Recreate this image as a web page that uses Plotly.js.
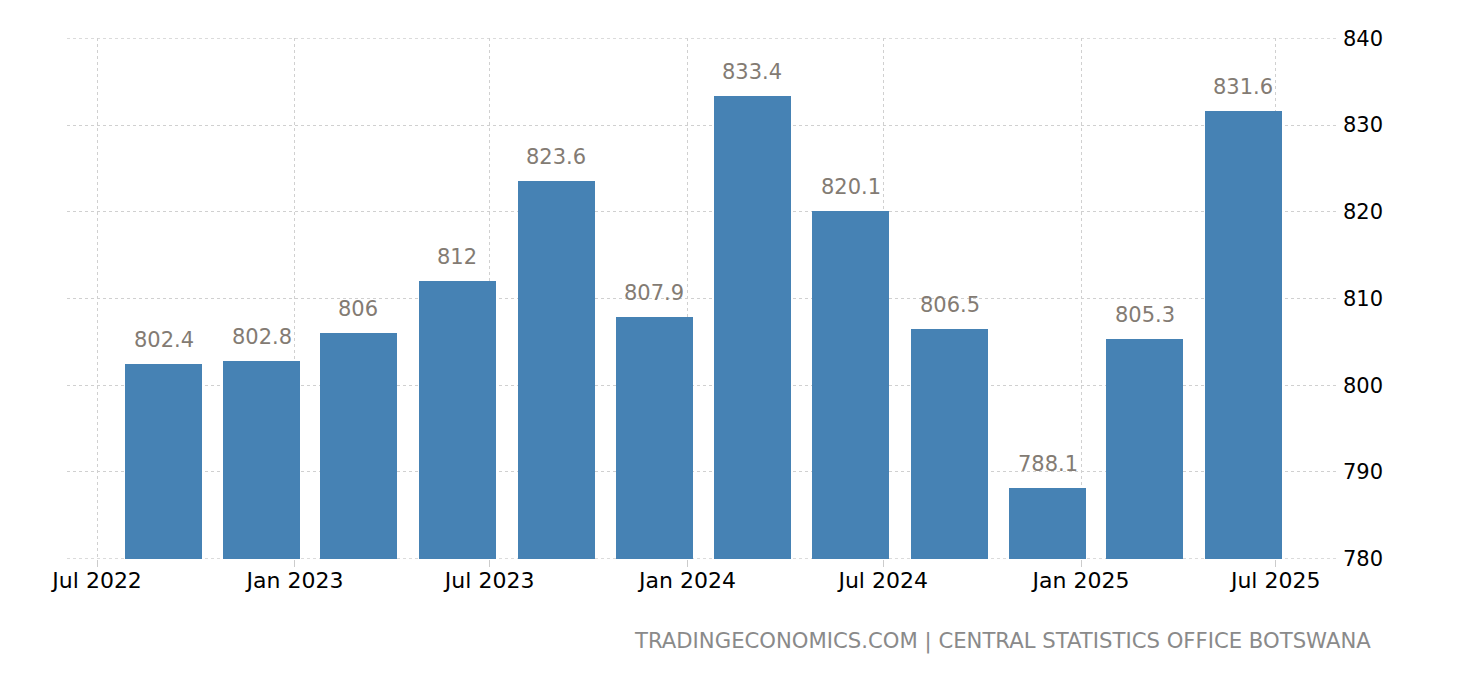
<!DOCTYPE html>
<html>
<head>
<meta charset="utf-8">
<script src="https://cdn.plot.ly/plotly-3.0.1.min.js"></script>
<style>
html,body{margin:0;padding:0;background:#fff;}
#chart{width:1460px;height:680px;}
</style>
</head>
<body>
<div id="chart"></div>
<script>
const dates = ["2022-09-01","2022-12-01","2023-03-01","2023-06-01","2023-09-01","2023-12-01",
               "2024-03-01","2024-06-01","2024-09-01","2024-12-01","2025-03-01","2025-06-01"];
const values = [802.4, 802.8, 806, 812, 823.6, 807.9, 833.4, 820.1, 806.5, 788.1, 805.3, 831.6];
const valueLabels = ["802.4","802.8","806","812","823.6","807.9","833.4","820.1","806.5","788.1","805.3","831.6"];
const yTicks = [780, 790, 800, 810, 820, 830, 840];
const sourceText = "TRADINGECONOMICS.COM | CENTRAL STATISTICS OFFICE BOTSWANA";

const DAY = 86400000;
const barWidth = 71.6 * DAY;
const FONT = "DejaVu Sans, Verdana, sans-serif";
const GRID = "#d0d0d0";

const trace = {
  type: "bar",
  x: dates,
  y: values,
  width: dates.map(() => barWidth),
  marker: {color: "#4682b4"},
  hoverinfo: "x+y"
};

const annotations = dates.map((d, i) => ({
  x: d, y: values[i], xref: "x", yref: "y",
  text: valueLabels[i], showarrow: false,
  yanchor: "bottom", yshift: 10,
  font: {family: FONT, size: 21, color: "#837b73"}
}));
annotations.push({
  xref: "paper", yref: "paper", x: 1.028, y: -0.158,
  xanchor: "right", yanchor: "middle",
  text: sourceText, showarrow: false,
  font: {family: FONT, size: 21.2, color: "#8a8a8a"}
});

// edge gridlines (top/bottom ticks) that Plotly skips at the plot border
const edgeTicks = [yTicks[0], yTicks[yTicks.length - 1]];
const shapes = edgeTicks.map(v => ({
  type: "line", xref: "paper", yref: "y", x0: 0, x1: 1, y0: v, y1: v,
  line: {color: GRID, width: 1, dash: "dot"}, layer: "below"
}));

const layout = {
  width: 1460, height: 680,
  margin: {l: 67, r: 123, t: 38, b: 121, pad: 0},
  paper_bgcolor: "#ffffff", plot_bgcolor: "#ffffff",
  showlegend: false,
  bargap: 0,
  xaxis: {
    type: "date",
    range: ["2022-06-03", "2025-08-27"],
    tick0: "2022-07-01", dtick: "M6",
    tickformat: "%b %Y",
    showgrid: true, gridcolor: GRID, griddash: "dot", gridwidth: 1,
    ticks: "outside", ticklen: 7, tickcolor: "#cccccc", tickwidth: 1,
    ticklabelstandoff: -5,
    showline: false, zeroline: false,
    tickfont: {family: FONT, size: 22, color: "#000000"},
    fixedrange: true
  },
  yaxis: {
    side: "right",
    range: [779.97, 840.03],
    tickvals: yTicks,
    ticktext: yTicks.map(String),
    showgrid: true, gridcolor: GRID, griddash: "dot", gridwidth: 1,
    ticks: "", ticklabelstandoff: 5,
    showline: false, zeroline: false,
    tickfont: {family: FONT, size: 21, color: "#000000"},
    fixedrange: true
  },
  shapes: shapes,
  annotations: annotations,
  font: {family: FONT}
};

Plotly.newPlot("chart", [trace], layout, {displayModeBar: false, staticPlot: true});
</script>
</body>
</html>
